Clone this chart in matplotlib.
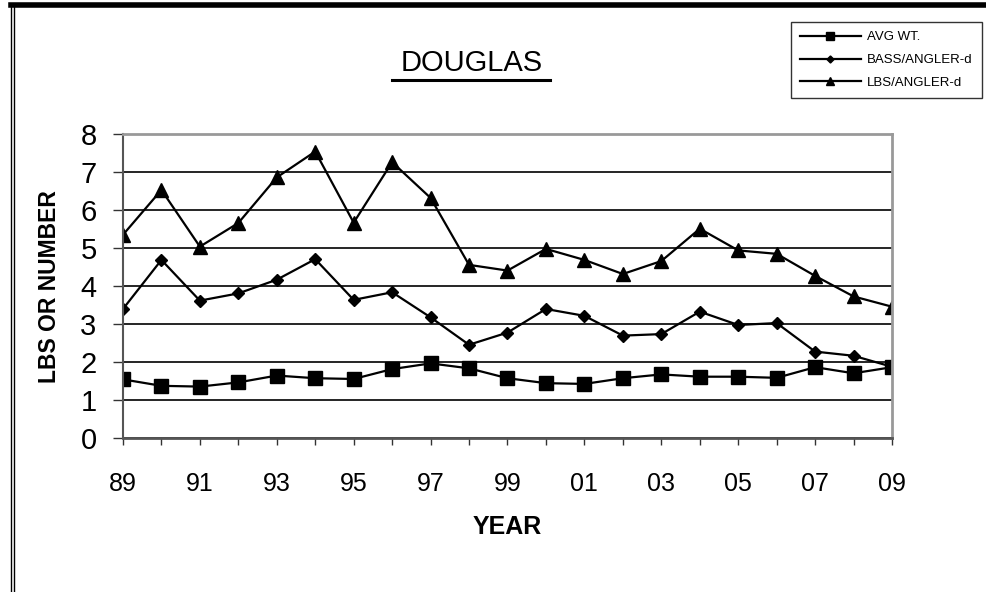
import matplotlib.pyplot as plt
from matplotlib.lines import Line2D

years = ["89", "90", "91", "92", "93", "94", "95", "96", "97", "98", "99",
         "00", "01", "02", "03", "04", "05", "06", "07", "08", "09"]
avg_wt = [1.55, 1.38, 1.36, 1.47, 1.65, 1.58, 1.56, 1.82, 1.97, 1.84, 1.58,
          1.45, 1.43, 1.58, 1.68, 1.62, 1.62, 1.59, 1.87, 1.71, 1.87]
bass_per_angler = [3.40, 4.69, 3.62, 3.81, 4.17, 4.71, 3.64, 3.84, 3.18, 2.46, 2.78,
                   3.40, 3.22, 2.70, 2.74, 3.33, 2.98, 3.03, 2.28, 2.17, 1.88]
lbs_per_angler = [5.35, 6.53, 5.04, 5.66, 6.86, 7.54, 5.67, 7.26, 6.32, 4.56, 4.41,
                  4.98, 4.69, 4.32, 4.66, 5.51, 4.94, 4.85, 4.27, 3.73, 3.46]
yticks = [0, 1, 2, 3, 4, 5, 6, 7, 8]

plt.rcParams['font.family'] = ['Liberation Sans', 'DejaVu Sans']

fig = plt.figure(figsize=(9.86, 5.92), dpi=100)
ax = fig.add_axes([0.1247, 0.2596, 0.78, 0.514])

x = list(range(len(years)))
ax.plot(x, avg_wt, color='black', lw=1.6, marker='s', markersize=10, label='AVG WT.')
ax.plot(x, bass_per_angler, color='black', lw=1.6, marker='D', markersize=6.5, label='BASS/ANGLER-d')
ax.plot(x, lbs_per_angler, color='black', lw=1.6, marker='^', markersize=10.5, label='LBS/ANGLER-d')

ax.set_xlim(0, len(years) - 1)
ax.set_ylim(0, 8)
ax.set_yticks(yticks)
ax.set_yticklabels([str(v) for v in yticks], fontsize=21)
ax.set_xticks(x)
ax.set_xticklabels([y if i % 2 == 0 else '' for i, y in enumerate(years)], fontsize=18)
ax.tick_params(axis='x', direction='out', length=5, width=1, color='#333333', pad=19)
ax.tick_params(axis='y', direction='out', length=7, width=1, color='#333333', pad=12)
ax.yaxis.grid(True, color='black', lw=1.2)
ax.set_axisbelow(True)
for side in ['top', 'right']:
    ax.spines[side].set_color('#999999')
    ax.spines[side].set_linewidth(2)
ax.spines['left'].set_color('#555555')
ax.spines['bottom'].set_color('#555555')
ax.spines['left'].set_linewidth(1.5)
ax.spines['bottom'].set_linewidth(2)

ax.set_ylabel('LBS OR NUMBER', fontsize=16.5, fontweight='bold', labelpad=14)
ax.set_xlabel('YEAR', fontsize=18, fontweight='bold', labelpad=14)

fig.text(0.478, 0.893, 'DOUGLAS', fontsize=21, ha='center', va='center')
fig.add_artist(Line2D([0.398, 0.558], [0.865, 0.865], color='black', lw=2.2))

leg = fig.legend(loc='upper right', bbox_to_anchor=(0.996, 0.963), borderaxespad=0,
                 fontsize=9.5, fancybox=False, edgecolor='#333333', framealpha=1,
                 markerscale=0.55, handlelength=4.6, handletextpad=0.5,
                 borderpad=0.7, labelspacing=0.8)
leg.get_frame().set_linewidth(1)

# frame around the chart
fig.add_artist(Line2D([0.011, 1.0], [0.991, 0.991], color='black', lw=4))
fig.add_artist(Line2D([0.0115, 0.0115], [0.0, 0.991], color='black', lw=1))
fig.add_artist(Line2D([0.0145, 0.0145], [0.0, 0.991], color='black', lw=1))

plt.savefig('out.png', dpi=100)
